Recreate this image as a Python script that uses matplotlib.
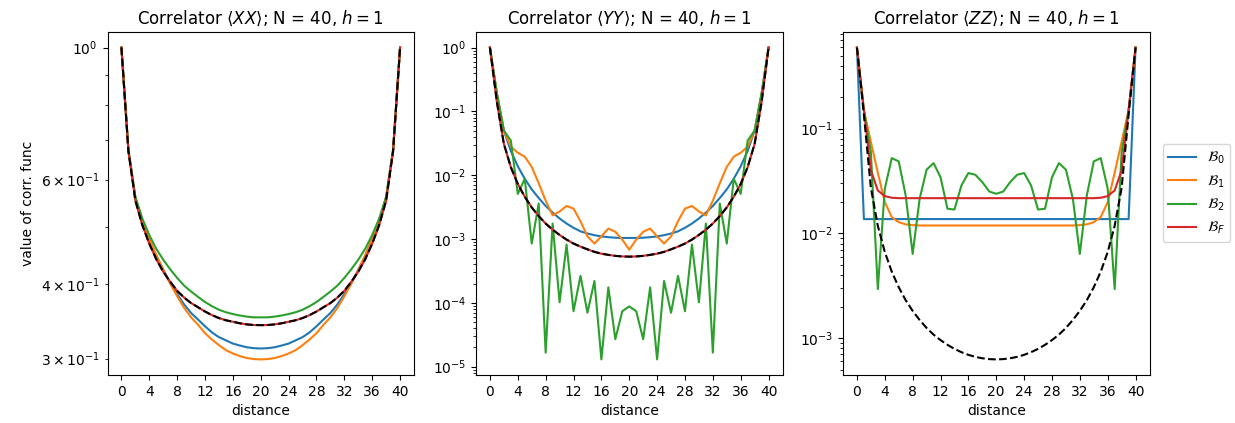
import matplotlib
matplotlib.use("Agg")
import matplotlib.pyplot as plt
import numpy as np

distance = list(range(41))
xticks = [0, 4, 8, 12, 16, 20, 24, 28, 32, 36, 40]
labels = [r"$\mathcal{B}_0$", r"$\mathcal{B}_1$", r"$\mathcal{B}_2$", r"$\mathcal{B}_F$"]
titles = [r"Correlator $\langle XX\rangle$; N = 40, $h = 1$",
          r"Correlator $\langle YY\rangle$; N = 40, $h = 1$",
          r"Correlator $\langle ZZ\rangle$; N = 40, $h = 1$"]

# ---- <XX> ----
xx_B0 = [1.0, 0.673, 0.559, 0.511, 0.476, 0.447, 0.423, 0.402, 0.385, 0.370, 0.358,
         0.349, 0.340, 0.332, 0.326, 0.322, 0.318, 0.3156, 0.3135, 0.3124, 0.3120,
         0.3124, 0.3135, 0.3156, 0.318, 0.322, 0.326, 0.332, 0.340, 0.349, 0.358,
         0.370, 0.385, 0.402, 0.423, 0.447, 0.476, 0.511, 0.559, 0.673, 1.0]
xx_B1 = [1.0, 0.673, 0.561, 0.512, 0.477, 0.448, 0.423, 0.401, 0.382, 0.365, 0.352,
         0.342, 0.331, 0.323, 0.316, 0.310, 0.306, 0.303, 0.3007, 0.2995, 0.2991,
         0.2995, 0.3007, 0.303, 0.306, 0.310, 0.316, 0.323, 0.331, 0.342, 0.352,
         0.365, 0.382, 0.401, 0.423, 0.448, 0.477, 0.512, 0.561, 0.673, 1.0]
xx_B2 = [1.0, 0.673, 0.561, 0.516, 0.484, 0.459, 0.440, 0.424, 0.410, 0.398, 0.389,
         0.381, 0.3735, 0.3675, 0.3625, 0.359, 0.3565, 0.3545, 0.353, 0.352, 0.352,
         0.352, 0.353, 0.3545, 0.3565, 0.359, 0.3625, 0.3675, 0.3735, 0.381, 0.389,
         0.398, 0.410, 0.424, 0.440, 0.459, 0.484, 0.516, 0.561, 0.673, 1.0]
xx_BF = [1.0, 0.670, 0.553, 0.503, 0.468, 0.441, 0.420, 0.404, 0.390, 0.380, 0.372,
         0.366, 0.360, 0.355, 0.351, 0.348, 0.346, 0.344, 0.3425, 0.3417, 0.3415,
         0.3417, 0.3425, 0.344, 0.346, 0.348, 0.351, 0.355, 0.360, 0.366, 0.372,
         0.380, 0.390, 0.404, 0.420, 0.441, 0.468, 0.503, 0.553, 0.670, 1.0]
xx_exact = [1.0, 0.670, 0.553, 0.503, 0.468, 0.441, 0.420, 0.404, 0.390, 0.380, 0.372,
            0.366, 0.360, 0.355, 0.351, 0.348, 0.346, 0.344, 0.3425, 0.3417, 0.3415,
            0.3417, 0.3425, 0.344, 0.346, 0.348, 0.351, 0.355, 0.360, 0.366, 0.372,
            0.380, 0.390, 0.404, 0.420, 0.441, 0.468, 0.503, 0.553, 0.670, 1.0]

# ---- <YY> ----
yy_B0 = [1.0, 0.19, 0.05, 0.024, 0.0138, 0.0088, 0.0060, 0.0044, 0.0033, 0.0026, 0.0021,
         0.00175, 0.0015, 0.00132, 0.00122, 0.00115, 0.00110, 0.00107, 0.00105, 0.00104, 0.00104,
         0.00104, 0.00105, 0.00107, 0.00110, 0.00115, 0.00122, 0.00132, 0.0015, 0.00175, 0.0021,
         0.0026, 0.0033, 0.0044, 0.0060, 0.0088, 0.0138, 0.024, 0.05, 0.19, 1.0]
yy_B1 = [1.0, 0.19, 0.05, 0.028, 0.0225, 0.0195, 0.0135, 0.0075, 0.0040, 0.00235, 0.0027,
         0.0033, 0.0030, 0.0019, 0.0011, 0.00085, 0.0011, 0.00146, 0.0013, 0.00098, 0.00068,
         0.00098, 0.0013, 0.00146, 0.0011, 0.00085, 0.0011, 0.0019, 0.0030, 0.0033, 0.0027,
         0.00235, 0.0040, 0.0075, 0.0135, 0.0195, 0.0225, 0.028, 0.05, 0.19, 1.0]
yy_B2 = [1.0, 0.19, 0.05, 0.035, 0.0051, 0.0088, 0.00085, 0.0036, 1.66e-5, 0.00175, 1.02e-4,
         8.2e-4, 7.4e-5, 2.65e-4, 7.0e-5, 2.2e-4, 1.3e-5, 1.75e-4, 2.7e-5, 7.4e-5, 8.8e-5,
         7.4e-5, 2.7e-5, 1.75e-4, 1.3e-5, 2.2e-4, 7.0e-5, 2.65e-4, 7.4e-5, 8.2e-4, 1.02e-4,
         0.00175, 1.66e-5, 0.0036, 0.00085, 0.0088, 0.0051, 0.035, 0.05, 0.19, 1.0]
yy_BF = [1.0, 0.14, 0.031, 0.0134, 0.0073, 0.0046, 0.00313, 0.00229, 0.00175, 0.0014, 0.00116,
         0.00098, 0.00085, 0.00076, 0.00069, 0.00063, 0.00059, 0.000565, 0.000545, 0.000534, 0.00053,
         0.000534, 0.000545, 0.000565, 0.00059, 0.00063, 0.00069, 0.00076, 0.00085, 0.00098, 0.00116,
         0.0014, 0.00175, 0.00229, 0.00313, 0.0046, 0.0073, 0.0134, 0.031, 0.14, 1.0]
yy_exact = [1.0, 0.14, 0.031, 0.0134, 0.0073, 0.0046, 0.00313, 0.00229, 0.00175, 0.0014, 0.00116,
            0.00098, 0.00085, 0.00076, 0.00069, 0.00063, 0.00059, 0.000565, 0.000545, 0.000534, 0.00053,
            0.000534, 0.000545, 0.000565, 0.00059, 0.00063, 0.00069, 0.00076, 0.00085, 0.00098, 0.00116,
            0.0014, 0.00175, 0.00229, 0.00313, 0.0046, 0.0073, 0.0134, 0.031, 0.14, 1.0]

# ---- <ZZ> ----
zz_B0 = [0.595, 0.0137, 0.0137, 0.0137, 0.0137, 0.0137, 0.0137, 0.0137, 0.0137, 0.0137, 0.0137,
         0.0137, 0.0137, 0.0137, 0.0137, 0.0137, 0.0137, 0.0137, 0.0137, 0.0137, 0.0137,
         0.0137, 0.0137, 0.0137, 0.0137, 0.0137, 0.0137, 0.0137, 0.0137, 0.0137, 0.0137,
         0.0137, 0.0137, 0.0137, 0.0137, 0.0137, 0.0137, 0.0137, 0.0137, 0.0137, 0.595]
zz_B1 = [0.595, 0.15, 0.075, 0.038, 0.0199, 0.0143, 0.0128, 0.0122, 0.0120, 0.0119, 0.0119,
         0.0119, 0.0119, 0.0119, 0.0119, 0.0119, 0.0119, 0.0119, 0.0119, 0.0119, 0.0119,
         0.0119, 0.0119, 0.0119, 0.0119, 0.0119, 0.0119, 0.0119, 0.0119, 0.0119, 0.0119,
         0.0119, 0.0120, 0.0122, 0.0128, 0.0143, 0.0199, 0.038, 0.075, 0.15, 0.595]
zz_B2 = [0.595, 0.15, 0.06, 0.00294, 0.0267, 0.0524, 0.0487, 0.0230, 0.00637, 0.0214, 0.0406,
         0.0469, 0.0344, 0.0172, 0.0169, 0.0287, 0.0377, 0.0363, 0.0309, 0.0251, 0.0239,
         0.0251, 0.0309, 0.0363, 0.0377, 0.0287, 0.0169, 0.0172, 0.0344, 0.0469, 0.0406,
         0.0214, 0.00637, 0.0230, 0.0487, 0.0524, 0.0267, 0.00294, 0.06, 0.15, 0.595]
zz_BF = [0.595, 0.15, 0.04, 0.0257, 0.0227, 0.0219, 0.0217, 0.0217, 0.0217, 0.0217, 0.0217,
         0.0217, 0.0217, 0.0217, 0.0217, 0.0217, 0.0217, 0.0217, 0.0217, 0.0217, 0.0217,
         0.0217, 0.0217, 0.0217, 0.0217, 0.0217, 0.0217, 0.0217, 0.0217, 0.0217, 0.0217,
         0.0217, 0.0217, 0.0217, 0.0217, 0.0219, 0.0227, 0.0257, 0.04, 0.15, 0.595]
zz_exact = [0.595, 0.1355, 0.0273, 0.0118, 0.00665, 0.00431, 0.00306, 0.0023, 0.00182, 0.00149, 0.00125,
            0.00108, 0.000957, 0.000862, 0.000789, 0.000734, 0.000692, 0.000662, 0.000642, 0.00063, 0.000626,
            0.00063, 0.000642, 0.000662, 0.000692, 0.000734, 0.000789, 0.000862, 0.000957, 0.00108, 0.00125,
            0.00149, 0.00182, 0.0023, 0.00306, 0.00431, 0.00665, 0.0118, 0.0273, 0.1355, 0.595]

panels = [
    (xx_B0, xx_B1, xx_B2, xx_BF, xx_exact),
    (yy_B0, yy_B1, yy_B2, yy_BF, yy_exact),
    (zz_B0, zz_B1, zz_B2, zz_BF, zz_exact),
]
colors = ["#1f77b4", "#ff7f0e", "#2ca02c", "#d62728"]

fig = plt.figure(figsize=(12.35, 4.23), dpi=100)
lefts = [107.5 / 1235, 476 / 1235, 843 / 1235]
axes = []
for i, (l, data) in enumerate(zip(lefts, panels)):
    ax = fig.add_axes([l, 48 / 423, 306.5 / 1235, 343 / 423])
    for series, c, lab in zip(data[:4], colors, labels):
        ax.plot(distance, series, color=c, label=lab, lw=1.5)
    ax.plot(distance, data[4], "k--", lw=1.5)
    ax.set_yscale("log")
    ax.set_xticks(xticks)
    ax.set_xlabel("distance")
    ax.set_title(titles[i], fontsize=12)
    axes.append(ax)

axes[0].set_ylabel("value of corr. func")
axes[2].legend(loc="center left", bbox_to_anchor=(1.02, 0.53))

fig.savefig("out.png", dpi=100)
